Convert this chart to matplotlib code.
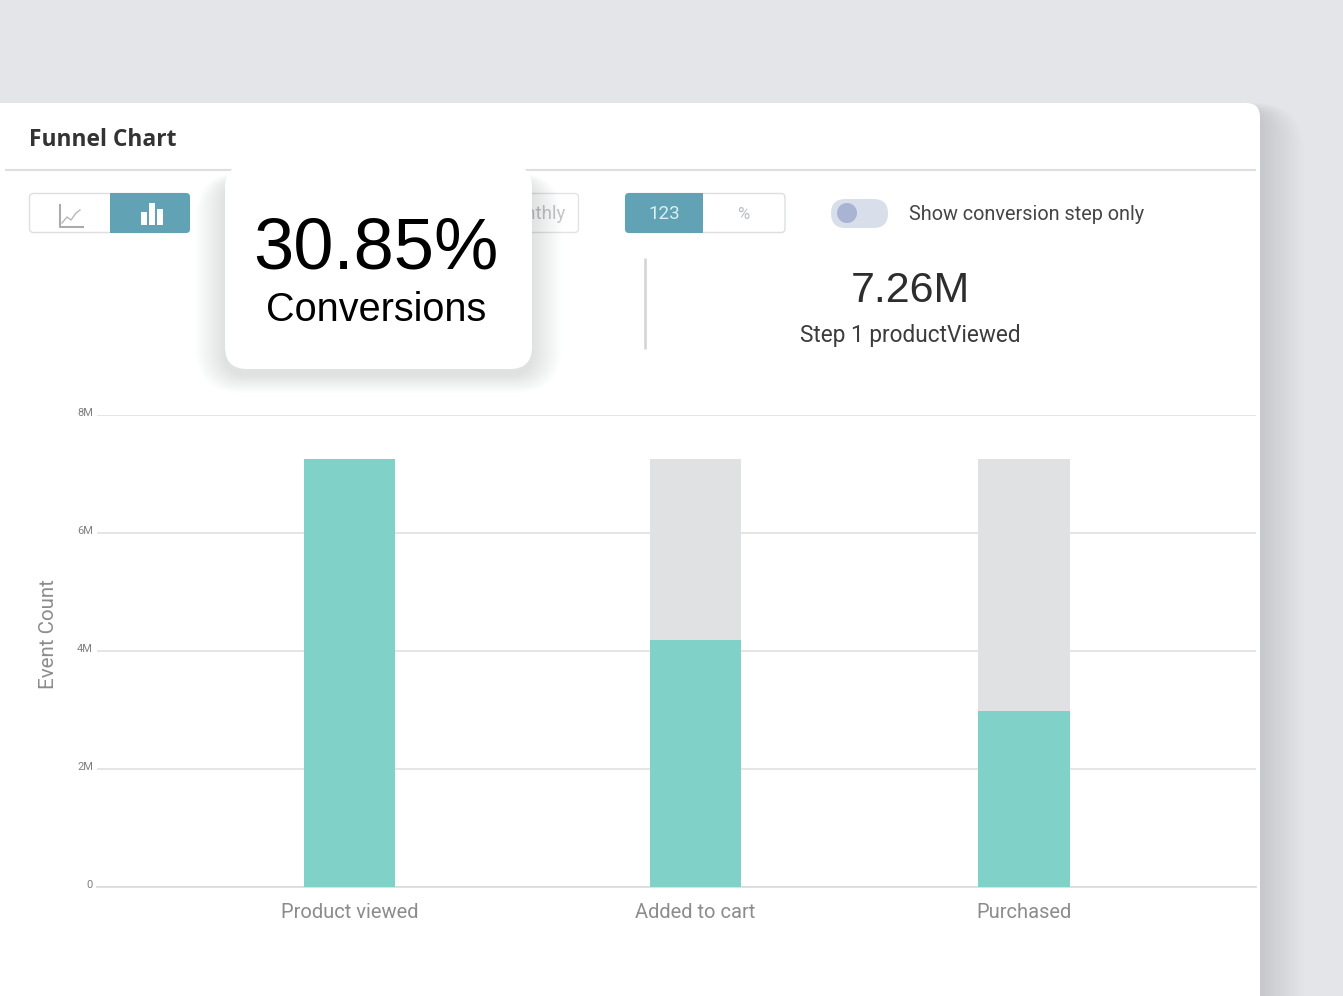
import matplotlib
matplotlib.use("Agg")
import matplotlib.pyplot as plt
from matplotlib.patches import FancyBboxPatch, Rectangle, Circle
from matplotlib.transforms import ScaledTranslation

# ---- data ----
categories = ["Product viewed", "Added to cart", "Purchased"]
converted_m = [7.26, 4.19, 2.98]
step1_total_m = [7.26, 7.26, 7.26]
y_ticks = [0, 2, 4, 6, 8]
y_tick_labels = ["0", "2M", "4M", "6M", "8M"]
y_label = "Event Count"
title = "Funnel Chart"
kpi_percent = "30.85%"
kpi_percent_label = "Conversions"
kpi_value = "7.26M"
kpi_value_label = "Step 1 productViewed"
toggle_label = "Show conversion step only"

# ---- layout (pixels) ----
W, H = 1343, 996
bar_centers = [349.5, 695.5, 1024]
bar_width = 91.5
plot_left, plot_right, plot_top, plot_bottom = 97, 1256, 415, 887
FONT = "Roboto"
KPI_FONT = "Liberation Sans"
TEAL = "#80d1c8"
GREY = "#dfe1e3"
BTN = "#61a3b4"

fig = plt.figure(figsize=(W / 100, H / 100), dpi=100, facecolor="#e3e5e9")

def px_axes(z):
    a = fig.add_axes([0, 0, 1, 1], zorder=z)
    a.set_xlim(0, W)
    a.set_ylim(H, 0)
    a.axis("off")
    a.patch.set_alpha(0)
    return a

def rbox(a, x0, y0, x1, y1, r, **kw):
    p = FancyBboxPatch((x0 + r, y0 + r), x1 - x0 - 2 * r, y1 - y0 - 2 * r,
                       boxstyle=f"round,pad={r},rounding_size={r}", **kw)
    a.add_patch(p)
    return p

# page card and its shadow
bg = px_axes(1)
for i in range(30):
    g = 44 - 1.5 * i
    rbox(bg, -60, 112 - g * 0.2, 1260 + g, 1100, 14 + g * 0.8,
         fc="#b9c2c6", ec="none", alpha=0.014)
rbox(bg, -60, 103, 1260, 1100, 14, fc="white", ec="none")
bg.text(29, 139.5, title, fontsize=16.4, family="Open Sans", weight="bold", color="#333333", va="center", ha="left")
bg.plot([5, 1256], [170, 170], color="#dcdee0", lw=1.5, solid_capstyle="butt")

# view switch
rbox(bg, 29.5, 193.5, 189.5, 232.5, 4, fc="white", ec="#dcdee0", lw=1)
rbox(bg, 110, 193, 190, 233, 4, fc=BTN, ec="none")
bg.add_patch(Rectangle((110, 193), 8, 40, fc=BTN, ec="none"))
bg.plot([59.5, 59.5, 83], [205, 227, 227], color="#a9abad", lw=1.5)
bg.plot([62, 67, 71, 76, 80], [223, 217, 220, 213, 210], color="#b5b7b9", lw=1)
for x, top_y in zip([140.5, 148.5, 156.5], [212, 203, 209]):
    bg.add_patch(Rectangle((x, top_y), 6, 225 - top_y, fc="#ffffff", ec="none"))

# period switch (mostly hidden by popup)
rbox(bg, 480.5, 193.5, 578.5, 232.5, 4, fc="white", ec="#e1e3e6", lw=1)
bg.text(566, 214, "Monthly", fontsize=13.5, family=FONT, color="#c3c6cb", ha="right", va="center")

# number switch
rbox(bg, 625.5, 193.5, 785, 232.5, 4, fc="white", ec="#dcdee0", lw=1)
rbox(bg, 625, 193, 703, 233, 4, fc=BTN, ec="none")
bg.add_patch(Rectangle((695, 193), 8, 40, fc=BTN, ec="none"))
bg.text(664, 214, "123", fontsize=13.5, family=FONT, color="#d8f0f2", ha="center", va="center")
bg.text(743.5, 214, "%", fontsize=12, family=FONT, color="#b9bcc2", ha="center", va="center")

# toggle
rbox(bg, 831, 199, 888, 228, 14.5, fc="#d9deeb", ec="none")
bg.add_patch(Circle((847, 213), 10, fc="#a9b3d2", ec="none"))
bg.text(909, 214, toggle_label, fontsize=14.3, family=FONT, color="#454545", ha="left", va="center")

# right KPI
bg.plot([645, 645], [258, 349], color="#d5d7d9", lw=2, solid_capstyle="butt")
bg.text(910, 291, kpi_value, fontsize=31, family=KPI_FONT, color="#2d2d2d", ha="center", va="center")
bg.text(910, 335, kpi_value_label, fontsize=16.3, family=FONT, color="#3c3c3c", ha="center", va="center")

# bar chart
ax = fig.add_axes([plot_left / W, 1 - plot_bottom / H, (plot_right - plot_left) / W, (plot_bottom - plot_top) / H], zorder=2)
ax.patch.set_alpha(0)
ax.set_xlim(plot_left, plot_right)
ax.set_ylim(0, 8)
ax.bar(bar_centers, step1_total_m, width=bar_width, color=GREY, zorder=2)
ax.bar(bar_centers, converted_m, width=bar_width, color=TEAL, zorder=3)
ax.set_yticks(y_ticks, y_tick_labels)
ax.set_xticks(bar_centers, categories)
ax.grid(axis="y", color="#dcdedf", lw=1.1, zorder=1)
ax.set_axisbelow(True)
for s in ["top", "right", "left"]:
    ax.spines[s].set_visible(False)
ax.spines["bottom"].set_color("#d8dadb")
ax.spines["bottom"].set_linewidth(1.2)
ax.tick_params(axis="y", length=0, pad=3, labelsize=8, labelcolor="#808080")
ax.tick_params(axis="x", length=0, pad=11.5, labelsize=14.5, labelcolor="#8c8c8c")
for lab in ax.get_yticklabels():
    lab.set_family(FONT)
    lab.set_transform(lab.get_transform() + ScaledTranslation(0, 2.2 / 72, fig.dpi_scale_trans))
for lab in ax.get_xticklabels():
    lab.set_family(FONT)
bg.text(48, 634, y_label, rotation=90, fontsize=14.8, family=FONT, color="#8c8c8c", ha="center", va="center")

# popup
top = px_axes(3)
for i in range(30):
    g = 30 - i
    rbox(top, 225 - g, 165 + 14 - g * 0.2, 532 + g, 369 + g * 0.6 + 6, 22 + g * 0.8,
         fc="#7f878c", ec="none", alpha=0.0065)
rbox(top, 225, 165, 532, 369, 22, fc="white", ec="none")
top.text(376, 250, kpi_percent, fontsize=52, family=KPI_FONT, color="black", ha="center", va="center")
top.text(376, 310, kpi_percent_label, fontsize=28.5, family=KPI_FONT, color="black", ha="center", va="center")

fig.savefig("out.png", dpi=100, facecolor=fig.get_facecolor())
